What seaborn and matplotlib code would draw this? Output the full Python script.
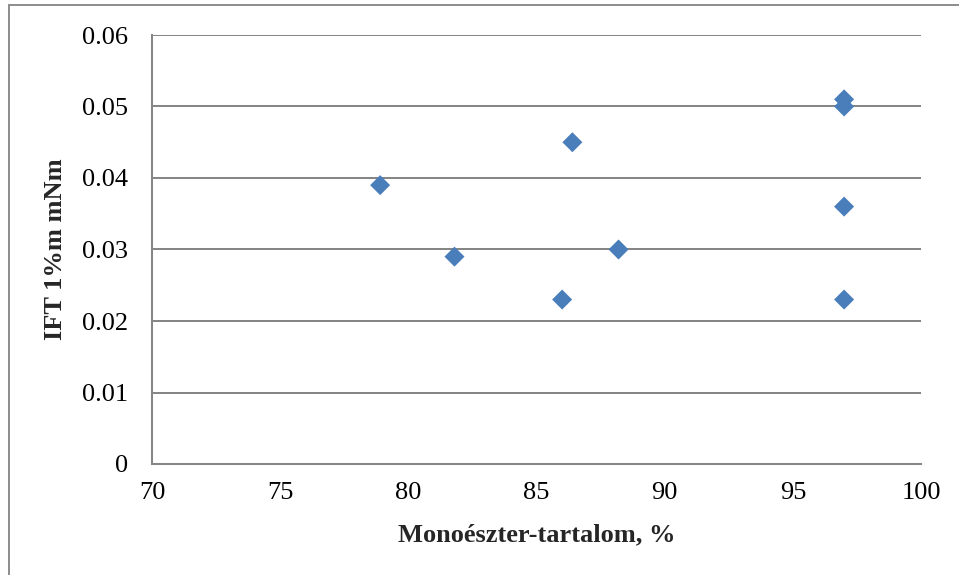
import matplotlib
matplotlib.use("Agg")
import matplotlib.pyplot as plt
import seaborn as sns
import pandas as pd
from matplotlib.patches import Rectangle

# Monoester content (%) and interfacial tension at 1 m% (mN/m)
monoester = [78.9, 81.8, 86.0, 86.4, 88.2, 97.0, 97.0, 97.0, 97.0]
ift = [0.039, 0.029, 0.023, 0.045, 0.030, 0.050, 0.051, 0.036, 0.023]

x_ticks = [70, 75, 80, 85, 90, 95, 100]
y_ticks = [0, 0.01, 0.02, 0.03, 0.04, 0.05, 0.06]
y_tick_labels = ["0", "0.01", "0.02", "0.03", "0.04", "0.05", "0.06"]

df = pd.DataFrame({"x": monoester, "y": ift})

sns.set_style("white")
plt.rcParams["font.family"] = ["Liberation Serif", "DejaVu Serif"]

W, H = 959, 575
fig = plt.figure(figsize=(W / 100, H / 100), dpi=100)
ax = fig.add_axes([152 / W, 1 - 464 / H, (921 - 152) / W, (464 - 35) / H])

grey = "#868686"
ax.set_axisbelow(True)
for yv in y_ticks[1:]:
    ax.axhline(yv, color=grey, lw=1.45, zorder=0)

sns.scatterplot(data=df, x="x", y="y", marker="D", s=104, color="#4a7ebb",
                edgecolor="none", linewidth=0, ax=ax, zorder=3)

ax.set_xlim(70, 100)
ax.set_ylim(0, 0.06)
ax.set_xticks(x_ticks)
ax.set_yticks(y_ticks)
ax.set_yticklabels(y_tick_labels)
ax.tick_params(axis="both", length=0, labelsize=19, colors="black")
ax.tick_params(axis="y", pad=17)
ax.tick_params(axis="x", pad=13)

for side in ["top", "right"]:
    ax.spines[side].set_visible(False)
for side in ["left", "bottom"]:
    ax.spines[side].set_color(grey)
    ax.spines[side].set_linewidth(1.45)

ax.set_xlabel("Monoészter-tartalom, %", fontsize=19, fontweight="bold")
ax.set_ylabel("IFT 1%m mNm", fontsize=19, fontweight="bold")
ax.xaxis.set_label_coords(0.5, -0.1655)
ax.yaxis.set_label_coords(-0.126, 0.5)
ax.xaxis.label.set_va("center")
ax.yaxis.label.set_va("center")

# outer chart-area frame
fig.patches.append(Rectangle((9 / W, -0.1), 1.2, 1 - 5 / H + 0.1,
                             transform=fig.transFigure, fill=False,
                             edgecolor="#8c8c8c", linewidth=1.4))

fig.savefig("out.png", dpi=100)
